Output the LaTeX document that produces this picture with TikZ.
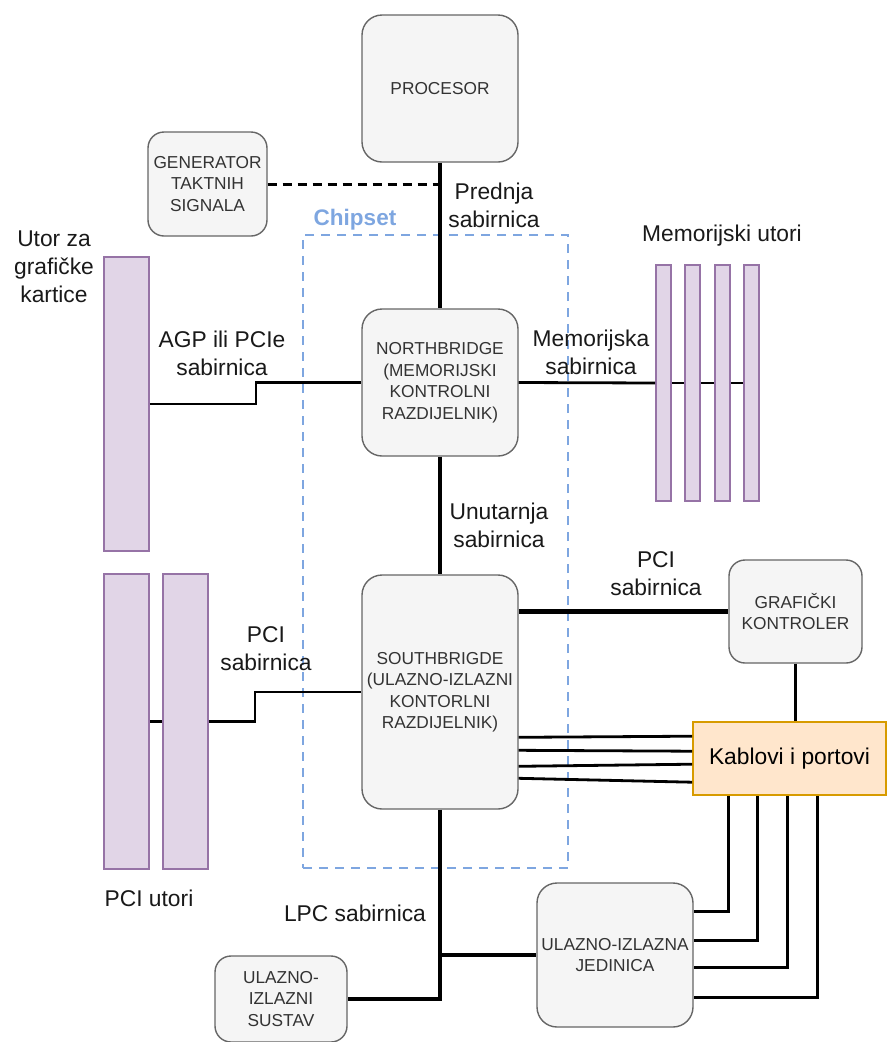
\documentclass[tikz,border=0pt]{standalone}
\usepackage{fontspec}
\setmainfont{Liberation Sans}
\usetikzlibrary{calc}
\definecolor{boxfill}{HTML}{F5F5F5}
\definecolor{boxline}{HTML}{666666}
\definecolor{slotfill}{HTML}{E1D5E7}
\definecolor{slotline}{HTML}{9673A6}
\definecolor{portfill}{HTML}{FFE6CC}
\definecolor{portline}{HTML}{D79B00}
\definecolor{chipblue}{HTML}{7EA6E0}
\tikzset{
  unitbox/.style={draw=boxline, fill=boxfill, line width=1.4pt, rounded corners=20pt,
    align=center, inner sep=0pt, text=black!80,
    font=\fontsize{17.3}{21.5}\selectfont},
  slot/.style={draw=slotline, fill=slotfill, line width=1.6pt, inner sep=0pt},
  lbl/.style={align=center, inner sep=0pt, text=black!90, font=\fontsize{22.8}{28}\selectfont},
  bus/.style={line width=4.2pt, black},
  midbus/.style={line width=2.8pt, black},
  thinbus/.style={line width=2.2pt, black},
}
\begin{document}
\begin{tikzpicture}[x=1pt, y=-1pt]
\useasboundingbox (0,0) rectangle (887,1042);

% chipset frame
\node[draw=chipblue, dash pattern=on 9pt off 7pt, line width=2.6pt, minimum width=265pt, minimum height=633pt, inner sep=0pt] (chip) at (435.5,551.5) {};
\node[text=chipblue, font=\fontsize{22.5}{26}\selectfont\bfseries, inner sep=0pt] (chiplbl) at (355,220) {Chipset};

% boxes
\node[unitbox, minimum width=156pt, minimum height=147pt] (proc) at (440,88.5) {PROCESOR};
\node[unitbox, minimum width=119pt, minimum height=104pt, rounded corners=16pt] (gen) at (207.5,184) {GENERATOR\\TAKTNIH\\SIGNALA};
\node[unitbox, minimum width=156pt, minimum height=147pt] (nb) at (440,382.5) {NORTHBRIDGE\\(MEMORIJSKI\\KONTROLNI\\RAZDIJELNIK)};
\node[unitbox, minimum width=156pt, minimum height=234pt] (sb) at (440,692) {SOUTHBRIGDE\\(ULAZNO-IZLAZNI\\KONTORLNI\\RAZDIJELNIK)};
\node[unitbox, minimum width=133pt, minimum height=103pt, rounded corners=16pt] (gk) at (795.5,611.5) {GRAFIČKI\\KONTROLER};
\node[draw=portline, fill=portfill, line width=1.6pt, minimum width=193pt, minimum height=73pt, inner sep=0pt, font=\fontsize{22.8}{28}\selectfont] (kab) at (789.5,758.5) {Kablovi i portovi};
\node[unitbox, minimum width=156pt, minimum height=144pt] (uij) at (615,955) {ULAZNO-IZLAZNA\\JEDINICA};
\node[unitbox, minimum width=132pt, minimum height=86pt, rounded corners=16pt] (uis) at (281,999) {ULAZNO-\\IZLAZNI\\SUSTAV};

% slots
\node[slot, minimum width=45pt, minimum height=294pt] (agp) at (126.5,404) {};
\node[slot, minimum width=45pt, minimum height=295pt] (pci1) at (126.5,721.5) {};
\node[slot, minimum width=45pt, minimum height=295pt] (pci2) at (185.5,721.5) {};
\node[slot, minimum width=15pt, minimum height=236pt] (mem1) at (663.5,383) {};
\node[slot, minimum width=15pt, minimum height=236pt] (mem2) at (692.5,383) {};
\node[slot, minimum width=15pt, minimum height=236pt] (mem3) at (722.5,383) {};
\node[slot, minimum width=15pt, minimum height=236pt] (mem4) at (751.5,383) {};

% connectors
\draw[line width=3pt, dash pattern=on 9pt off 6pt] (gen.east) -- (gen.east -| proc.south);
\draw[bus] (proc.south) -- (nb.north);
\draw[bus] (nb.south) -- (sb.north);
\draw[midbus] (agp.east) -- (256,404) -- (256,382.5) -- (nb.west);
\draw[midbus] (pci1.east) -- (pci2.west);
\draw[midbus] (pci2.east) -- (255,721.5) -- (255,692) -- (sb.west);
\draw[midbus] (nb.east) -- (mem1.west);
\draw[midbus] (mem1.east) -- (mem2.west);
\draw[midbus] (mem2.east) -- (mem3.west);
\draw[midbus] (mem3.east) -- (mem4.west);
\draw[bus] (gk.west -| sb.east) -- (gk.west);
\draw[thinbus] (gk.south) -- (gk.south |- kab.north);
\draw[midbus] ($(sb.north east)+(0,163)$) -- ($(kab.north west)+(0,15)$);
\draw[midbus] ($(sb.north east)+(0,176)$) -- ($(kab.north west)+(0,30)$);
\draw[midbus] ($(sb.north east)+(0,192)$) -- ($(kab.north west)+(0,43)$);
\draw[midbus] ($(sb.north east)+(0,204)$) -- ($(kab.north west)+(0,61)$);
\draw[midbus] ($(kab.south west)+(36,0)$) |- ($(uij.north east)+(0,29)$);
\draw[midbus] ($(kab.south west)+(65,0)$) |- ($(uij.north east)+(0,58)$);
\draw[midbus] ($(kab.south west)+(95,0)$) |- ($(uij.north east)+(0,85)$);
\draw[midbus] ($(kab.south west)+(125,0)$) |- ($(uij.north east)+(0,115)$);
\draw[bus] (sb.south) |- (uis.east);
\draw[bus] (sb.south |- uij.west) -- (uij.west);

% labels
\node[lbl] (lfront) at (494,205) {Prednja\\sabirnica};
\node[lbl] (linner) at (499,525) {Unutarnja\\sabirnica};
\node[lbl] (lmem) at (591,352) {Memorijska\\sabirnica};
\node[lbl] (lmemslot) at (722,236) {Memorijski utori};
\node[lbl] (lagp) at (222,353) {AGP ili PCIe\\sabirnica};
\node[lbl] (lgfx) at (54,267) {Utor za\\grafičke\\kartice};
\node[lbl] (lpcil) at (266,649) {PCI\\sabirnica};
\node[lbl] (lpcir) at (656,574) {PCI\\sabirnica};
\node[lbl] (lpcislot) at (149,898) {PCI utori};
\node[lbl] (llpc) at (355,913) {LPC sabirnica};
\end{tikzpicture}
\end{document}
